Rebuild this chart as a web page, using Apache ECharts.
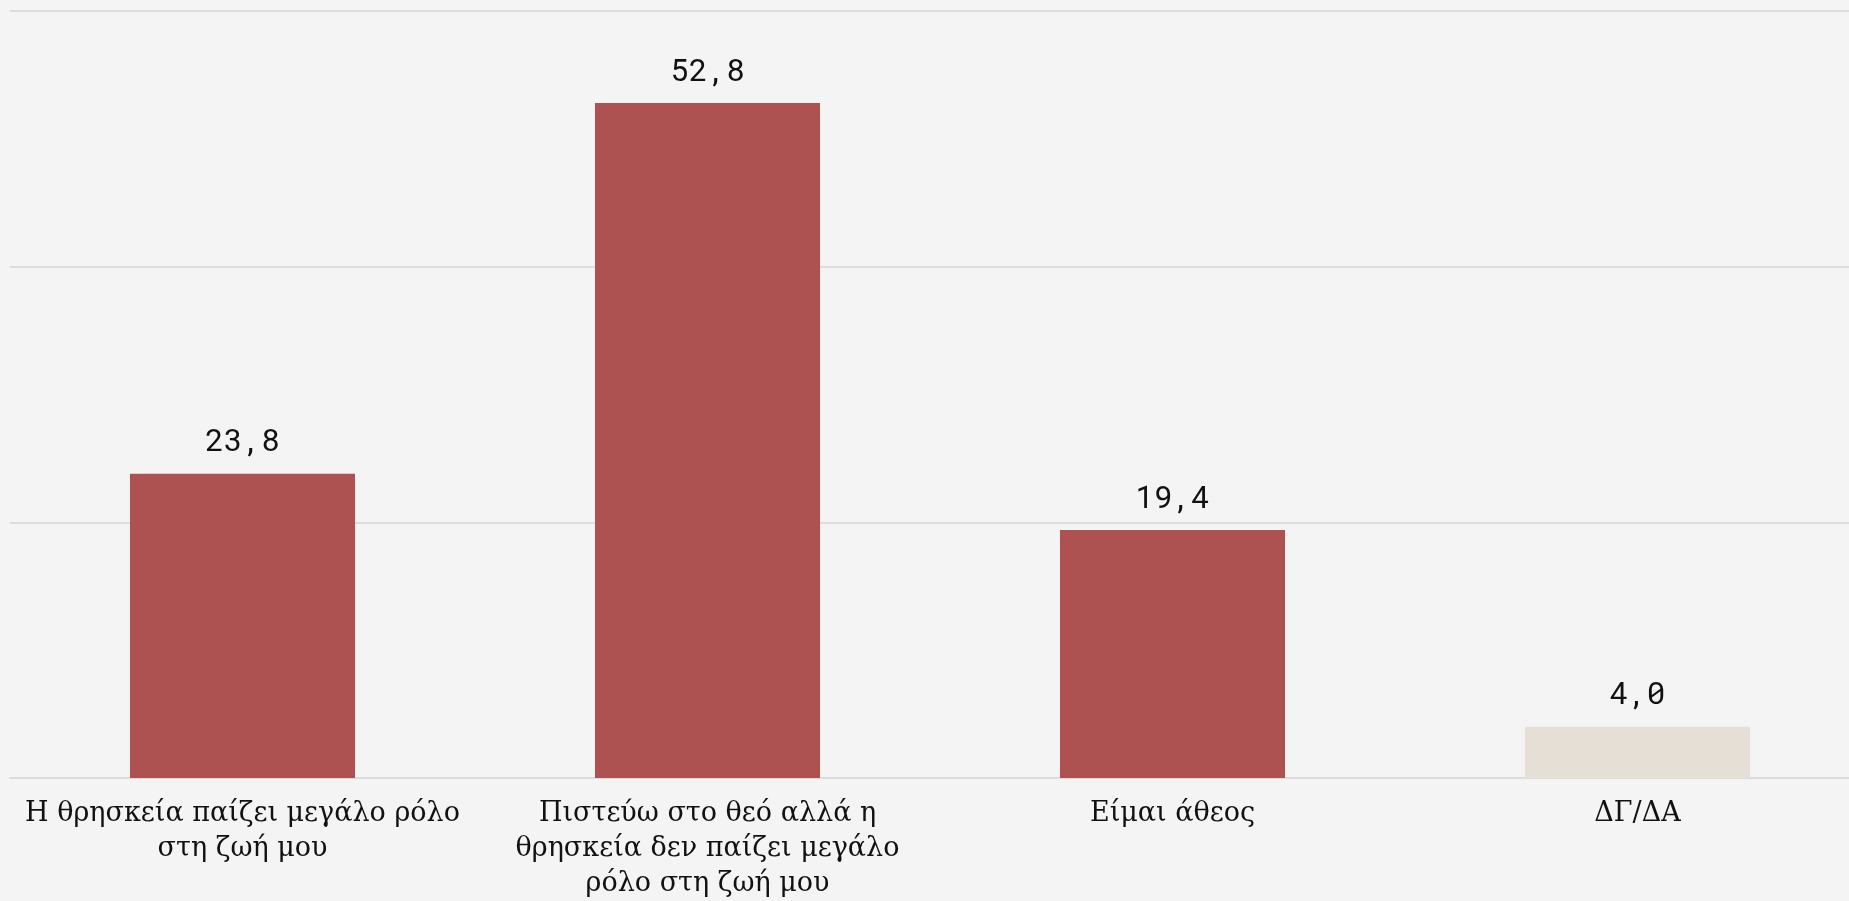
<!DOCTYPE html>
<html>
<head>
<meta charset="utf-8">
<script src="https://cdn.jsdelivr.net/npm/echarts@6/dist/echarts.min.js"></script>
<style>
  html, body { margin: 0; padding: 0; background: #f4f4f4; overflow: hidden; }
  #main { width: 1870px; height: 901px; }
</style>
</head>
<body>
<div id="main"></div>
<script>
    var categories = [
        'Η θρησκεία παίζει μεγάλο ρόλο\nστη ζωή μου',
        'Πιστεύω στο θεό αλλά η\nθρησκεία δεν παίζει μεγάλο\nρόλο στη ζωή μου',
        'Είμαι άθεος',
        'ΔΓ/ΔΑ'
    ];
    var values = [23.8, 52.8, 19.4, 4.0];
    var barColors = ['#ad5250', '#ad5250', '#ad5250', '#e6dfd6'];

    // the plot runs a little past the right edge of the window, like the original
    var myChart = echarts.init(document.getElementById('main'));
    var option = {
        backgroundColor: '#f4f4f4',
        animation: false,
        grid: {
            left: 10,
            top: 11,
            right: 0,
            bottom: 123,
            outerBoundsMode: 'none'
        },
        xAxis: {
            type: 'category',
            data: categories,
            axisTick: { show: false },
            axisLine: {
                lineStyle: { color: '#dcdcdc', width: 2 }
            },
            axisLabel: {
                interval: 0,
                margin: 18,
                color: '#111',
                fontFamily: 'DejaVu Serif',
                fontSize: 27,
                lineHeight: 35,
                align: 'center'
            }
        },
        yAxis: {
            type: 'value',
            min: 0,
            max: 60,
            interval: 20,
            axisLabel: { show: false },
            axisLine: { show: false },
            axisTick: { show: false },
            splitLine: {
                lineStyle: { color: '#dcdcdc', width: 2 }
            }
        },
        series: [{
            type: 'bar',
            barWidth: '48.4%',
            data: values.map(function(v, i) {
                return { value: v, itemStyle: { color: barColors[i] } };
            }),
            label: {
                show: true,
                position: 'top',
                distance: 16,
                color: '#111',
                fontFamily: '"Roboto Mono", "DejaVu Sans Mono", monospace',
                fontSize: 31,
                formatter: function(p) {
                    return p.value.toFixed(1).replace('.', ',');
                }
            }
        }]
    };
    myChart.setOption(option);
</script>
</body>
</html>
